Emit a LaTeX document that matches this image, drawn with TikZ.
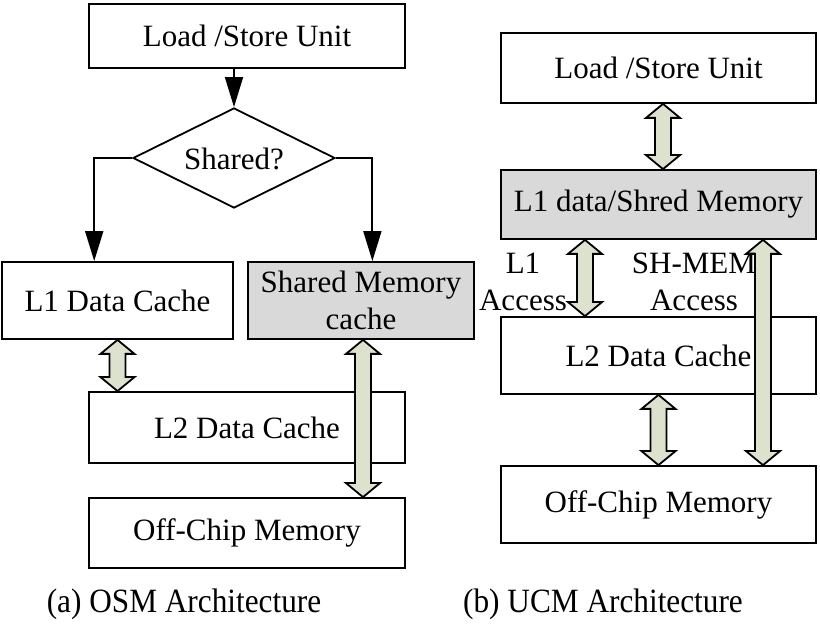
\documentclass[tikz,border=0pt]{standalone}
\usepackage{fontspec}
\usepackage{graphicx}
\setmainfont{Liberation Serif}
\usetikzlibrary{shapes.geometric,arrows.meta,calc}
\definecolor{boxgray}{RGB}{217,217,217}
\definecolor{arrfill}{RGB}{221,226,206}
\newcommand\fatarr[2]{\draw[fatarrow] let \p1=#1, \p2=#2 in
  (\x1,\y1) -- (\x1+8.5pt,\y1-7pt) -- (\x1+4pt,\y1-7pt) -- (\x1+4pt,\y2+7pt) -- (\x1+8.5pt,\y2+7pt)
  -- (\x1,\y2) -- (\x1-8.5pt,\y2+7pt) -- (\x1-4pt,\y2+7pt) -- (\x1-4pt,\y1-7pt) -- (\x1-8.5pt,\y1-7pt) -- cycle;}
\begin{document}
\begin{tikzpicture}[x=0.5pt,y=-0.5pt,
  every node/.style={font=\fontsize{15.5}{18.6}\selectfont},
  blk/.style={draw,line width=0.9pt,inner sep=0pt,align=center},
  graybox/.style={blk,fill=boxgray},
  decide/.style={draw,line width=0.9pt,diamond,inner sep=0pt,minimum width=101pt,minimum height=50pt},
  flow/.style={line width=0.9pt,-{Triangle[width=9pt,length=15pt]}},
  fatarrow/.style={draw,line width=0.9pt,fill=arrfill,line join=miter},
  lbl/.style={align=center,inner sep=0pt},
  captext/.style={font=\fontsize{17}{20}\selectfont,inner sep=0pt}]
\useasboundingbox (0,0) rectangle (820,625);
% left panel
\node[blk,minimum width=158pt,minimum height=32pt] (ls1) at (247,36) {Load /Store Unit};
\node[decide] (dia) at (234,158) {};
\node[lbl] (diat) at (234,159) {Shared?};
\node[blk,minimum width=115.5pt,minimum height=38.5pt] (l1a) at (117.5,300.5) {L1 Data Cache};
\node[graybox,minimum width=113pt,minimum height=38.5pt] (sm) at (361,300.5) {Shared Memory\\cache};
\node[blk,minimum width=158pt,minimum height=35.5pt] (l2a) at (247,427.5) {L2 Data Cache};
\node[blk,minimum width=158pt,minimum height=35pt] (offa) at (247,533) {Off-Chip Memory};
\draw[flow] (ls1.south -| dia.north) -- (dia.north);
\draw[flow] (dia.west) -| ($(l1a.north west)!0.4!(l1a.north east)$);
\draw[flow] (dia.east) -| ($(sm.north west)!0.55!(sm.north east)$);
\fatarr{(l1a.south)}{(l2a.north)}
\fatarr{($(sm.south)+(2,0)$)}{(offa.north)}
% right panel
\node[blk,minimum width=157.5pt,minimum height=35pt] (ls2) at (658.5,68) {Load /Store Unit};
\node[graybox,minimum width=157.5pt,minimum height=34.5pt] (l1b) at (658.5,204.5) {L1 data/Shred Memory};
\node[blk,minimum width=157.5pt,minimum height=38.5pt] (l2b) at (658.5,355.5) {L2 Data Cache};
\node[blk,minimum width=157.5pt,minimum height=38.5pt] (offb) at (658.5,504.5) {Off-Chip Memory};
\fatarr{($(ls2.south)+(4.5,0)$)}{(l1b.north)}
\fatarr{($(l1b.south)+(-73.5,0)$)}{(l2b.north)}
\fatarr{($(l1b.south)+(104.5,0)$)}{(offb.north)}
\fatarr{(l2b.south)}{(offb.north)}
\node[lbl] (l1acc) at (523,282) {L1\\Access};
\node[lbl] (shacc) at (694,282) {SH-MEM\\Access};
% captions
\node[captext] (capa) at (184,604) {\scalebox{0.92}[1]{(a) OSM Architecture}};
\node[captext] (capb) at (603,604) {\scalebox{0.92}[1]{(b) UCM Architecture}};
\end{tikzpicture}
\end{document}
